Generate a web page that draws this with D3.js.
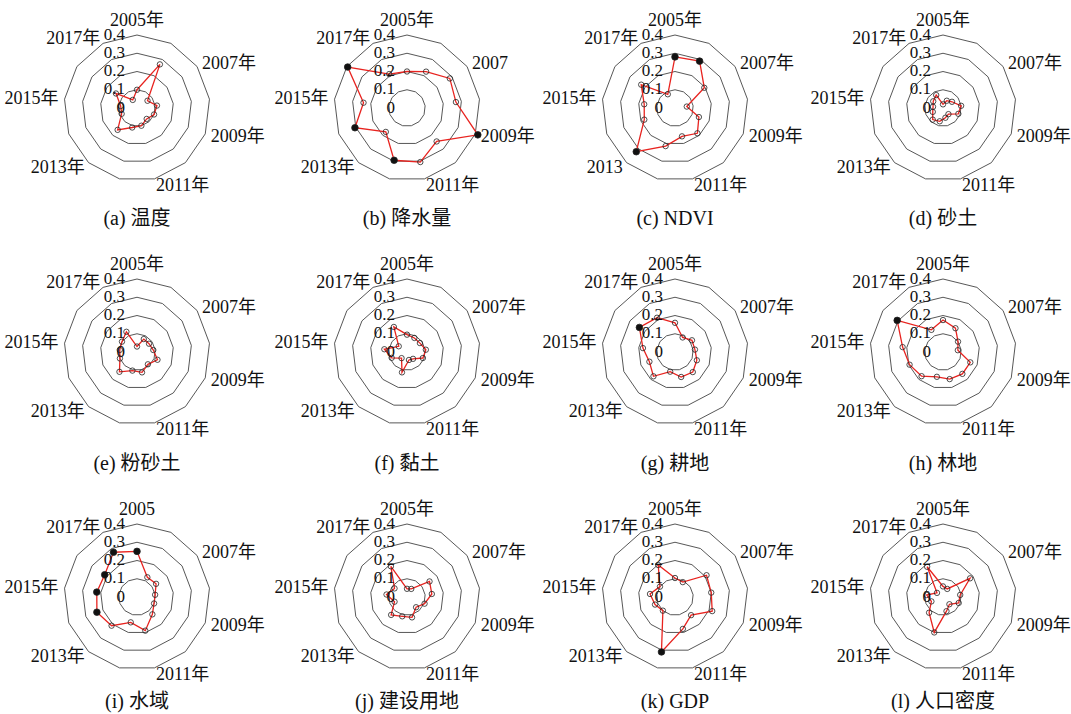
<!DOCTYPE html>
<html>
<head>
<meta charset="utf-8">
<script src="https://cdn.jsdelivr.net/npm/d3@7"></script>
<style>
  body { margin: 0; background: #fff; }
  text { font-family: "Liberation Serif", "Times New Roman", "Noto Sans CJK SC", serif; fill: #111; }
</style>
</head>
<body>
<svg id="chart" width="1071" height="714"></svg>
<script>
const years = [2005, 2006, 2007, 2008, 2009, 2010, 2011, 2012, 2013, 2014, 2015, 2016, 2017];
const ringTicks = [0.1, 0.2, 0.3, 0.4];
const tickLabels = ["0", "0.1", "0.2", "0.3", "0.4"];
const panelTitles = ["(a) 温度", "(b) 降水量", "(c) NDVI", "(d) 砂土",
                     "(e) 粉砂土", "(f) 黏土", "(g) 耕地", "(h) 林地",
                     "(i) 水域", "(j) 建设用地", "(k) GDP", "(l) 人口密度"];

// values, one per year 2005..2017
const tempVals    = [0.10, 0.27, 0.07, 0.11, 0.10, 0.08, 0.10, 0.11, 0.16, 0.09, 0.09, 0.14, 0.05];
const precipVals  = [0.20, 0.225, 0.285, 0.27, 0.415, 0.245, 0.305, 0.295, 0.175, 0.305, 0.24, 0.395, 0.21];
const ndviVals    = [0.28, 0.29, 0.195, 0.065, 0.14, 0.185, 0.16, 0.215, 0.32, 0.18, 0.17, 0.225, 0.085];
const sandVals    = [0.02, 0.045, 0.06, 0.10, 0.09, 0.045, 0.055, 0.075, 0.085, 0.06, 0.055, 0.065, 0.08];
const siltVals    = [0.03, 0.08, 0.08, 0.09, 0.12, 0.09, 0.115, 0.105, 0.145, 0.10, 0.095, 0.10, 0.125];
const clayVals    = [0.095, 0.087, 0.086, 0.104, 0.093, 0.05, 0.045, 0.115, 0.045, 0.09, 0.125, 0.055, 0.155];
const cropVals    = [0.16, 0.09, 0.113, 0.11, 0.128, 0.147, 0.141, 0.111, 0.178, 0.15, 0.177, 0.237, 0.212];
const forestVals  = [0.175, 0.147, 0.10, 0.082, 0.16, 0.16, 0.153, 0.14, 0.177, 0.196, 0.223, 0.305, 0.137];
const waterVals   = [0.25, 0.122, 0.127, 0.10, 0.10, 0.127, 0.19, 0.143, 0.21, 0.235, 0.222, 0.215, 0.277];
const builtVals   = [0.045, 0.05, 0.15, 0.137, 0.103, 0.075, 0.115, 0.109, 0.131, 0.073, 0.113, 0.083, 0.19];
const gdpVals     = [0.104, 0.092, 0.21, 0.20, 0.218, 0.133, 0.18, 0.31, 0.10, 0.117, 0.138, 0.10, 0.198];
const popVals     = [0.058, 0.05, 0.18, 0.095, 0.092, 0.053, 0.08, 0.20, 0.115, 0.068, 0.09, 0.04, 0.187];

// year indices drawn as solid black markers
const filledIdx = [[], [4, 7, 9, 11], [0, 1, 8], [], [], [], [11], [11], [0, 9, 10, 11, 12], [], [7], []];
// a few labels in the original lack the 年
const labelOverrides = [{}, {2: "2007"}, {8: "2013"}, {}, {}, {}, {}, {}, {0: "2005"}, {}, {}, {}];

const series = [tempVals, precipVals, ndviVals, sandVals, siltVals, clayVals,
                cropVals, forestVals, waterVals, builtVals, gdpVals, popVals];

const colX = [137, 407, 675, 943];
const rowY = [108, 352, 597];
const titleY = [218, 463, 701];
const R = 73;

const svg = d3.select("#chart");
const r = d3.scaleLinear().domain([0, 0.4]).range([0, R]);
const ang = d3.scaleLinear().domain([0, years.length]).range([0, 2 * Math.PI]);

const ring = d3.lineRadial()
  .angle((d, i) => ang(i))
  .radius(d => r(d))
  .curve(d3.curveLinearClosed);

series.forEach((vals, p) => {
  const cx = colX[p % 4], cy = rowY[Math.floor(p / 4)];
  const g = svg.append("g").attr("transform", `translate(${cx},${cy})`);

  // grid rings (13-gons)
  g.selectAll("path.ring")
    .data(ringTicks)
    .join("path")
      .attr("class", "ring")
      .attr("d", t => ring(years.map(() => t)))
      .attr("fill", "none")
      .attr("stroke", "#444")
      .attr("stroke-width", 0.9);

  // year labels, every other year
  years.forEach((yr, i) => {
    if (i % 2 !== 0) return;
    const a = ang(i);
    const s = Math.sin(a), c = Math.cos(a);
    const lr = R + 6;
    const txt = labelOverrides[p][i] !== undefined ? labelOverrides[p][i] : `${yr}年`;
    g.append("text")
      .attr("x", s * lr)
      .attr("y", -c * lr - (Math.abs(s) < 0.15 ? c * 9 : 0))
      .attr("text-anchor", s > 0.15 ? "start" : (s < -0.15 ? "end" : "middle"))
      .attr("dominant-baseline", "central")
      .style("font-size", "18px")
      .text(txt);
  });

  // data polygon
  g.append("path")
    .attr("d", ring(vals))
    .attr("fill", "none")
    .attr("stroke", "#e8231f")
    .attr("stroke-width", 1.3);

  g.selectAll("circle")
    .data(vals)
    .join("circle")
      .attr("cx", (d, i) => Math.sin(ang(i)) * r(d))
      .attr("cy", (d, i) => -Math.cos(ang(i)) * r(d))
      .attr("r", (d, i) => filledIdx[p].includes(i) ? 3.3 : 2.7)
      .attr("fill", (d, i) => filledIdx[p].includes(i) ? "#111" : "none")
      .attr("stroke", "#222")
      .attr("stroke-width", 0.8);

  // radial tick labels along the top axis
  g.selectAll("text.tick")
    .data(tickLabels)
    .join("text")
      .attr("class", "tick")
      .attr("x", -12)
      .attr("y", (d, i) => -r(i * 0.1) - 1)
      .attr("text-anchor", "end")
      .attr("dominant-baseline", "central")
      .style("font-size", "17px")
      .text(d => d);

  svg.append("text")
    .attr("x", cx)
    .attr("y", titleY[Math.floor(p / 4)])
    .attr("text-anchor", "middle")
    .attr("dominant-baseline", "central")
    .style("font-size", "20px")
    .text(panelTitles[p]);
});
</script>
</body>
</html>
